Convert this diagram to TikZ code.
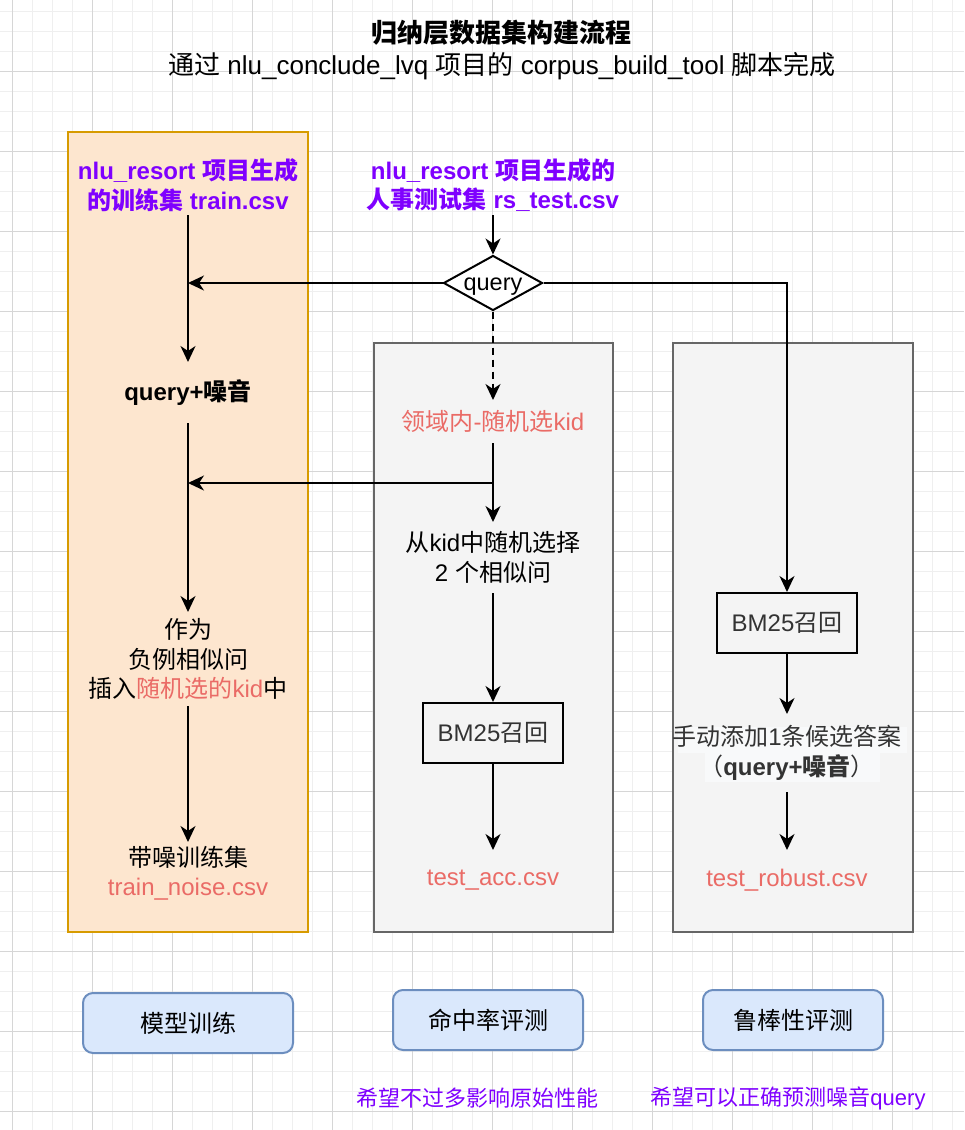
\documentclass[tikz,border=0pt]{standalone}
\usepackage{fontspec}
\setmainfont{Liberation Sans}
\newfontfamily\cjk{Noto Sans CJK SC}
\usetikzlibrary{arrows.meta,shapes.geometric}
\newcommand\zh[1]{{\cjk #1}}
\definecolor{purp}{HTML}{7F00FF}
\definecolor{redt}{HTML}{EA6B66}
\definecolor{darkt}{HTML}{333333}
\definecolor{gridmin}{HTML}{EFEFEF}
\definecolor{gridmaj}{HTML}{D6D6D6}
\definecolor{orfill}{HTML}{FDE6CF}
\definecolor{orline}{HTML}{D79B00}
\definecolor{grfill}{HTML}{F4F4F4}
\definecolor{grline}{HTML}{666666}
\definecolor{blfill}{HTML}{DAE8FC}
\definecolor{blline}{HTML}{6C8EBF}
\definecolor{lblbg}{HTML}{F8F9FA}
\begin{document}
\begin{tikzpicture}[x=1pt,y=-1pt,
  gminor/.style={draw=gridmin,line width=1pt},
  gmajor/.style={draw=gridmaj,line width=1pt},
  orangebox/.style={draw=orline,fill=orfill,line width=2pt,inner sep=0pt},
  graybox/.style={draw=grline,fill=grfill,line width=2pt,inner sep=0pt},
  txt/.style={inner sep=0pt,outer sep=0pt,align=center,font=\fontsize{24}{29.5}\selectfont},
  bmbox/.style={draw=black,line width=2pt,inner sep=0pt,minimum width=140pt,minimum height=60pt,text=darkt,font=\fontsize{24}{29.5}\selectfont},
  bluebox/.style={draw=blline,fill=blfill,line width=2pt,rounded corners=10pt,inner sep=0pt,minimum height=60pt,font=\fontsize{24}{29.5}\selectfont},
  arr/.style={line width=2pt,-{Stealth[length=16pt,width=15pt,inset=5pt]}},
  dashline/.style={dash pattern=on 7pt off 5pt}
]
\useasboundingbox (0,0) rectangle (964,1130);
\fill[white] (0,0) rectangle (964,1130);
% grid
\foreach \i in {0,...,47} \draw[gminor] ({12.7+20*\i},0) -- ({12.7+20*\i},1130);
\foreach \j in {0,...,55} \draw[gminor] (0,{11.7+20*\j}) -- (964,{11.7+20*\j});
\foreach \i in {0,...,11} \draw[gmajor] ({12.7+80*\i},0) -- ({12.7+80*\i},1130);
\foreach \j in {0,...,13} \draw[gmajor] (0,{71.7+80*\j}) -- (964,{71.7+80*\j});

% title
\node[txt,font=\fontsize{26}{30}\selectfont\bfseries] (title) at (501,33) {\zh{归纳层数据集构建流程}};
\node[txt,font=\fontsize{26}{30}\selectfont] (subtitle) at (502,66) {\zh{通过} nlu\_conclude\_lvq \zh{项目的} corpus\_build\_tool \zh{脚本完成}};

% containers
\node[orangebox,minimum width=240pt,minimum height=800pt] (trainbox) at (188,532) {};
\node[graybox,minimum width=239pt,minimum height=589pt] (accbox) at (493.5,637.5) {};
\node[graybox,minimum width=240pt,minimum height=589pt] (robbox) at (793,637.5) {};

% label background (right column)
\fill[lblbg] (678,727) rectangle (907,753);
\fill[lblbg] (705,753) rectangle (880,782);

% left column
\node[txt,text=purp,font=\fontsize{24}{29.5}\selectfont\bfseries,minimum height=60pt] (hL) at (188,185)
  {nlu\_resort \zh{项目生成}\\\zh{的训练集} train.csv};
\node[txt,font=\fontsize{24}{29.5}\selectfont\bfseries,minimum height=61pt] (qn) at (188,392.5) {query+\zh{噪音}};
\node[txt,minimum height=94pt] (neg) at (188,659)
  {\zh{作为}\\\zh{负例相似问}\\\zh{插入}\textcolor{redt}{\zh{随机选的}kid}\zh{中}};
\node[txt,minimum height=62pt] (noise) at (188,873) {\zh{带噪训练集}\\\textcolor{redt}{train\_noise.csv}};
\coordinate (jL1) at (188,283);
\coordinate (jL2) at (188,483);

% middle column
\node[txt,text=purp,font=\fontsize{24}{29.5}\selectfont\bfseries,minimum height=60pt] (hM) at (493,185)
  {nlu\_resort \zh{项目生成的}\\\zh{人事测试集} rs\_test.csv};
\node[diamond,draw,fill=white,line width=2pt,aspect=1.8,inner sep=0pt,minimum width=99pt,minimum height=55pt,text height=14pt,text depth=0pt,font=\fontsize{23.5}{27}\selectfont] (q) at (493,283) {query};
\node[txt,text=redt,minimum height=43pt] (kid) at (493,421.5) {\zh{领域内}-\zh{随机选}kid};
\coordinate (jM) at (493,483);
\node[txt,minimum height=71pt] (sel) at (493,557.5) {\zh{从}kid\zh{中随机选择}\\2 \zh{个相似问}};
\node[bmbox] (bmM) at (493,733) {BM25\zh{召回}};
\node[txt,text=redt,minimum height=60pt] (acc) at (493,880) {test\_acc.csv};

% right column
\node[bmbox] (bmR) at (787,623) {BM25\zh{召回}};
\node[txt,text=darkt,minimum height=78pt] (man) at (787,753) {\zh{手动添加}1\zh{条候选答案}\\\zh{（}\textbf{query+\zh{噪音}}\zh{）}};
\node[txt,text=redt,minimum height=60pt] (rob) at (787,880) {test\_robust.csv};

% bottom
\node[bluebox,minimum width=210pt] (m1) at (188,1023) {\zh{模型训练}};
\node[bluebox,minimum width=190pt] (m2) at (488,1020) {\zh{命中率评测}};
\node[bluebox,minimum width=180pt] (m3) at (793,1020) {\zh{鲁棒性评测}};
\node[txt,text=purp,font=\fontsize{22}{26}\selectfont] (n2) at (477,1098) {\zh{希望不过多影响原始性能}};
\node[txt,text=purp,font=\fontsize{22}{26}\selectfont] (n3) at (788,1098) {\zh{希望可以正确预测噪音}query};

% connectors
\draw[arr] (hL.south) -- (qn.north);
\draw[arr] (qn.south) -- (neg.north);
\draw[arr] (neg.south) -- (noise.north);
\draw[arr] (hM.south) -- (q.north);
\draw[arr] (q.west) -- (jL1);
\draw[arr,dashline] (q.south) -- (kid.north);
\draw[arr] (kid.south) -- (sel.north);
\draw[arr] (jM) -- (jL2);
\draw[arr] (sel.south) -- (bmM.north);
\draw[arr] (bmM.south) -- (acc.north);
\draw[arr] (q.east) -| (bmR.north);
\draw[arr] (bmR.south) -- (man.north);
\draw[arr] (man.south) -- (rob.north);
\end{tikzpicture}
\end{document}
